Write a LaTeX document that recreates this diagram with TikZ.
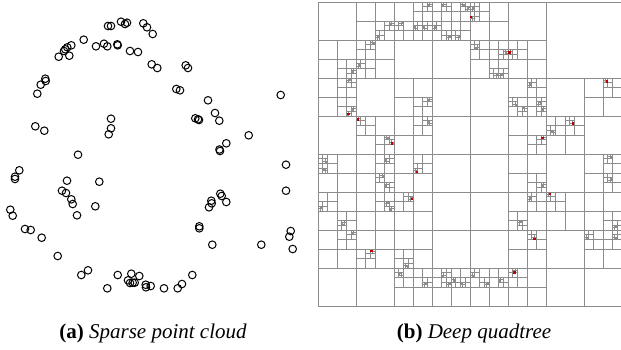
\documentclass[tikz,border=0pt]{standalone}
\usepackage{fontspec}
\setmainfont{Liberation Serif}
\usetikzlibrary{positioning}

\tikzset{
  pt/.style={shape=circle, draw, line width=1pt, minimum size=7.6pt, inner sep=0pt},
  cell/.style={draw=black!45, line width=0.95pt},
  hit/.style={shape=rectangle, fill=red!75!black, inner sep=0pt, minimum size=2.4pt},
  captext/.style={font=\fontsize{21}{24}\selectfont, anchor=base, inner sep=0pt}
}

\begin{document}
\begin{tikzpicture}[x=1pt,y=-1pt]
\useasboundingbox (0,0) rectangle (621,349);

%point cloud
\foreach \x/\y [count=\i] in {108/26, 111/26, 121/21.7, 125/24, 127/22.7, 143.3/23.3, 147/27.3, 152.7/34,
    83.7/39.7, 71.3/45.3, 67.3/47.3, 65.3/49.3, 64/51, 58.7/56.7, 69.3/55.7, 96/46.3, 104/43.7, 107.3/46.3,
    117.3/44.3, 117.7/45.3, 130/51, 138/52, 151.7/64.3, 157.3/68, 185.7/65.3, 188/68,
    45.3/78.7, 45.7/81, 40.7/84.7, 37.3/93.7, 176.3/89, 180/90.3, 280.7/95, 208/100.3, 215/113, 219.3/120.7,
    195.3/118.3, 198/119.3, 199/120, 111/118.7, 111/128.3, 108.7/134.3, 35.3/126.3, 44.3/130.7,
    248.7/135.3, 226.3/143.3, 219.5/149.5, 220/151,
    78/154.7, 286/164.7, 19.3/170.3, 15/176.7, 15/179, 67/180.7, 99.3/181.7, 62/190.7, 66/193, 286/190.7,
    71.3/199.3, 72.7/204, 220.3/193.7, 221.7/196, 226.3/202, 211.3/200.7, 211.7/203.3, 209/207.3,
    95.3/206.3, 77/215.3, 10.3/209.7, 12.7/215.7, 199.3/226.3, 199.3/228.3, 25/229, 30.7/230, 41.7/237.7,
    290.7/231, 289.3/236.7, 292.7/249, 212.3/244.7, 261.3/244.7, 57.7/256, 88/270.3, 81.3/275, 117.7/275,
    131.3/273.7, 139.3/276, 128/280.3, 130/283, 132.7/282.7, 134.7/282.7, 145.7/284.7, 146/287.3,
    150.7/286, 107.3/288.3, 164/288.3, 177.7/288.3, 182/284, 192.3/275}
  \node[pt] (p\i) at (\x,\y) {};

%quadtree
\begin{scope}[shift={(318,2)}, scale=38]
  \draw[cell] (0,0) rectangle (8,8);
  \foreach \px/\py in {1.88/0.6, 1.6/0.88, 0.93/1.82, 1.45/1.08, 1.1/1.65, 2.9/0.12, 2.22/0.55, 2.55/0.68,
      2.8/0.68, 3.3/0.07, 3.85/0.1, 3.95/0.17, 3.1/0.68, 3.45/0.88, 3.72/0.93, 0.85/2.05, 0.8/2.95, 0.9/2.85,
      1.06/3.09, 1.95/3.72, 1.85/3.6, 2.9/2.6, 2.9/3.15,
      4.1/0.15, 4.03/0.39, 4.15/1.2, 4.95/1.35, 4.7/1.9, 4.85/1.9, 5.04/1.33, 5.6/2.15, 5.2/2.7, 5.4/2.8,
      5.85/2.65, 5.9/2.85, 7.6/2.09, 5.91/3.58, 6.15/3.4, 6.71/3.2,
      0.2/4.2, 0.15/4.4, 1.8/4.15, 1.7/4.6, 1.8/4.85, 2.6/4.48, 0.1/5.4, 0.65/5.85, 1.85/5.3, 1.9/5.45,
      2.47/5.18, 0.9/6.1, 1.41/6.55, 2.35/6.95, 2.15/7.15, 2.85/7.4, 3.3/7.2, 3.45/7.4, 3.8/7.4, 3.6/7.35,
      5.9/4.85, 7.7/4.1, 7.7/4.65, 5.6/5.15, 5.35/5.75, 6.1/5.05, 7.85/5.9, 5.7/6.24, 7.1/6.2, 7.85/6.2,
      4.45/7.4, 4.1/7.2, 4.8/7.35, 5.17/7.12}{
    \foreach \s in {8,4,2,1,0.5,0.25,0.125,0.0625}{
      \pgfmathsetmacro\cx{(floor(\px/\s)+0.5)*\s}
      \pgfmathsetmacro\cy{(floor(\py/\s)+0.5)*\s}
      \draw[cell] ({\cx-\s/2},\cy) -- ({\cx+\s/2},\cy) (\cx,{\cy-\s/2}) -- (\cx,{\cy+\s/2});
    }
  }
  %red cells
  \foreach \px/\py [count=\i] in {0.8/2.95, 1.06/3.09, 1.95/3.72, 4.03/0.39, 5.04/1.33, 7.6/2.09, 5.91/3.58,
      6.71/3.2, 2.6/4.48, 2.47/5.18, 1.41/6.55, 6.1/5.05, 5.7/6.24, 5.17/7.12}
    \node[hit] (h\i) at (\px,\py) {};
\end{scope}

%captions
\node[captext] (capa) at (153,338) {\textbf{(a)} \textit{Sparse point cloud}};
\node[captext] (capb) at (474,338) {\textbf{(b)} \textit{Deep quadtree}};
\end{tikzpicture}
\end{document}
